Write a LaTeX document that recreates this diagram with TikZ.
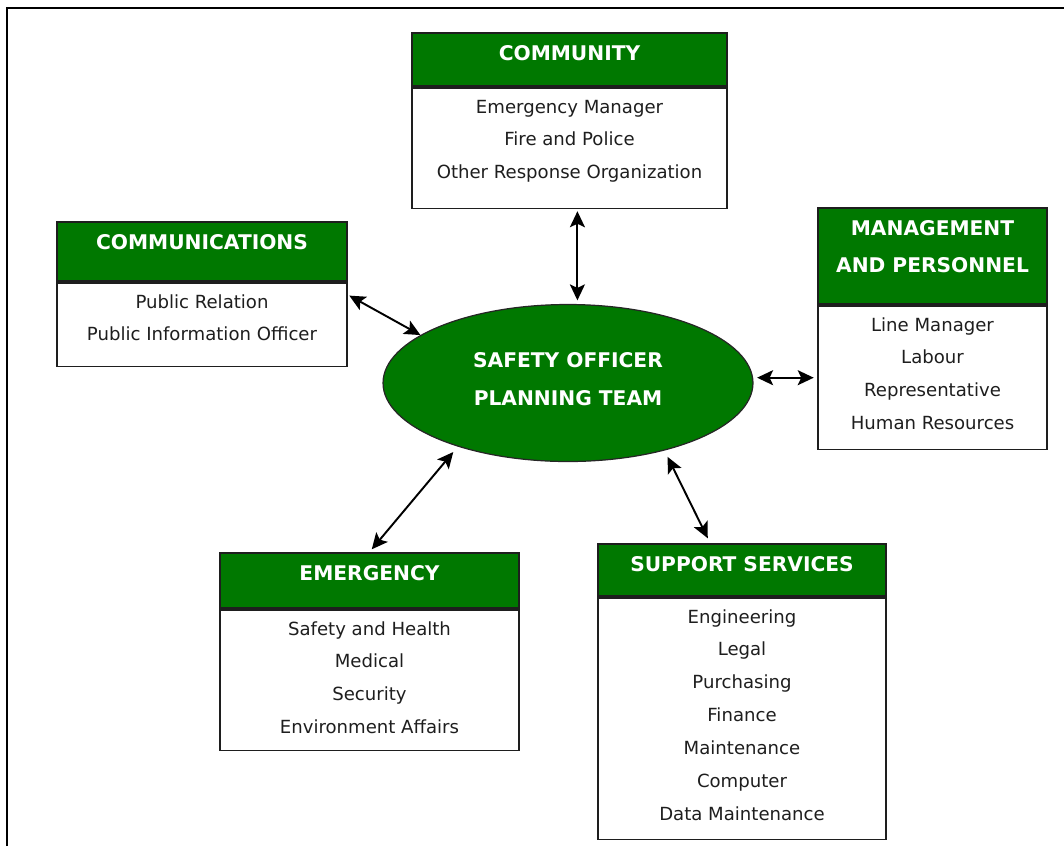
\documentclass[tikz,border=0pt]{standalone}
\usepackage{fontspec}
\setmainfont{DejaVu Sans}
\usetikzlibrary{positioning,arrows.meta,shapes.geometric,calc}
\definecolor{boxgreen}{HTML}{007800}
\definecolor{ink}{HTML}{1E1E1E}
\newcommand{\headtext}[3]{\parbox[c][#2][t]{#1}{\fontsize{11.5}{21}\selectfont\bfseries\centering\rule{0pt}{15.8pt}#3}}
\newcommand{\itemtext}[3]{\parbox[c][#2][t]{#1}{\fontsize{10.3}{18.7}\selectfont\centering\rule{0pt}{14.4pt}#3}}
\tikzset{
  headbox/.style={
    rectangle, draw=ink, line width=1.1pt,
    fill=boxgreen, text=white, inner sep=0pt
  },
  listbox/.style={
    rectangle, draw=ink, line width=0.9pt,
    fill=white, text=ink, inner sep=0pt
  },
  hub/.style={
    ellipse, draw=black!85, line width=0.7pt, fill=boxgreen, text=white,
    minimum width=7.4cm, minimum height=3.14cm, inner sep=0pt, text depth=4.6pt,
    align=center, font=\fontsize{11.5}{21.6}\selectfont\bfseries
  },
  link/.style={
    {Stealth[length=3.2mm,width=3mm,inset=0.7mm]}-{Stealth[length=3.2mm,width=3mm,inset=0.7mm]},
    line width=1.1pt, draw=black
  },
}
\begin{document}
\begin{tikzpicture}[x=0.02cm, y=-0.02cm]
  \useasboundingbox (0,0) rectangle (1064,846);
  \draw[line width=1.2pt] (7,846) -- (7,8) -- (1064,8);

  % centre
  \node[hub] (team) at (568,383) {SAFETY OFFICER\\PLANNING TEAM};

  % community
  \node[headbox, anchor=north] (cyhead) at (569.5,32) {\headtext{6.3cm}{1.06cm}{COMMUNITY}};
  \node[listbox, below=0pt of cyhead] (cybody) {\itemtext{6.3cm}{2.42cm}{Emergency Manager\\Fire and Police\\Other Response Organization}};

  % communications
  \node[headbox, anchor=north] (cmhead) at (202,221) {\headtext{5.8cm}{1.18cm}{COMMUNICATIONS}};
  \node[listbox, below=0pt of cmhead] (cmbody) {\itemtext{5.8cm}{1.68cm}{Public Relation\\Public Information Officer}};

  % management
  \node[headbox, anchor=north] (mghead) at (932.5,207) {\headtext{4.58cm}{1.92cm}{MANAGEMENT\\AND PERSONNEL}};
  \node[listbox, below=0pt of mghead] (mgbody) {\itemtext{4.58cm}{2.88cm}{Line Manager\\Labour\\Representative\\Human Resources}};

  % emergency
  \node[headbox, anchor=north] (emhead) at (369.5,552) {\headtext{5.98cm}{1.1cm}{EMERGENCY}};
  \node[listbox, below=0pt of emhead] (embody) {\itemtext{5.98cm}{2.82cm}{Safety and Health\\Medical\\Security\\Environment Affairs}};

  % support services
  \node[headbox, anchor=north] (sphead) at (742,543) {\headtext{5.76cm}{1.04cm}{SUPPORT SERVICES}};
  \node[listbox, below=0pt of sphead] (spbody) {\itemtext{5.76cm}{4.84cm}{Engineering\\Legal\\Purchasing\\Finance\\Maintenance\\Computer\\Data Maintenance}};

  % links
  \draw[link, shorten <=1pt, shorten >=2pt] ([xshift=4.5]cybody.south) -- ([xshift=4.5]cybody.south |- team.north);
  \draw[link, shorten <=1pt] ($(cmbody.north east)!0.15!(cmbody.south east)$) -- (team.162);
  \draw[link, shorten <=2pt, shorten >=2pt] (team.east |- mgbody.west) -- (mgbody.west);
  \draw[link, shorten <=2pt, shorten >=4pt] (emhead.north) -- (team.210);
  \draw[link, shorten <=3pt, shorten >=4pt] ($(sphead.north west)!0.39!(sphead.north east)$) -- (team.325);
\end{tikzpicture}
\end{document}
